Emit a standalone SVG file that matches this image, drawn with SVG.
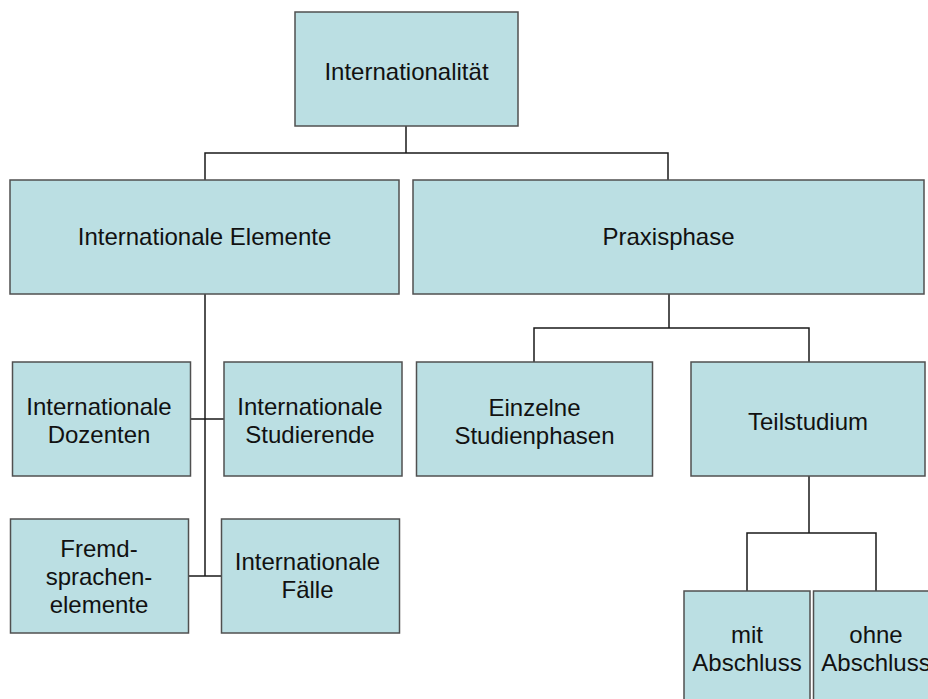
<svg xmlns="http://www.w3.org/2000/svg" width="928" height="699" viewBox="0 0 928 699">
<style>
.box{fill:#BBDFE3;stroke:#505050;stroke-width:1.5}
.t{font-family:"Liberation Sans",Arial,sans-serif;font-size:24px;fill:#111;text-anchor:middle}
.c{stroke:#1a1a1a;stroke-width:1.5;fill:none}
</style>
<rect width="928" height="699" fill="#fff"/>
<g id="connectors">
<path class="c" d="M406,126 V153 M205,180 V153 H668 V180"/>
<path class="c" d="M205,294 V576 M190,419 H224 M188,576 H221"/>
<path class="c" d="M669,294 V328 M534,362 V328 H809 V362"/>
<path class="c" d="M809,476 V533 M747,591 V533 H876 V591"/>
</g>
<g id="n-internationalitaet"><rect class="box" x="295" y="12" width="223" height="114"/><text class="t" x="406.5" y="80">Internationalität</text></g>
<g id="n-elemente"><rect class="box" x="10" y="180" width="389" height="114"/><text class="t" x="204.5" y="245">Internationale Elemente</text></g>
<g id="n-praxisphase"><rect class="box" x="413" y="180" width="511" height="114"/><text class="t" x="668.5" y="245">Praxisphase</text></g>
<g id="n-dozenten"><rect class="box" x="12.5" y="362" width="178" height="114"/><text class="t" x="99" y="415">Internationale</text><text class="t" x="99" y="443">Dozenten</text></g>
<g id="n-studierende"><rect class="box" x="224" y="362" width="178" height="114"/><text class="t" x="310" y="415">Internationale</text><text class="t" x="310" y="443">Studierende</text></g>
<g id="n-fremd"><rect class="box" x="10.5" y="519" width="178" height="114"/><text class="t" x="99" y="557">Fremd-</text><text class="t" x="99" y="585">sprachen-</text><text class="t" x="99" y="613">elemente</text></g>
<g id="n-faelle"><rect class="box" x="221.5" y="519" width="178" height="114"/><text class="t" x="307.5" y="570">Internationale</text><text class="t" x="307.5" y="598">Fälle</text></g>
<g id="n-einzelne"><rect class="box" x="416.5" y="362" width="236" height="114"/><text class="t" x="534.5" y="416">Einzelne</text><text class="t" x="534.5" y="444">Studienphasen</text></g>
<g id="n-teilstudium"><rect class="box" x="691" y="362" width="234" height="114"/><text class="t" x="808" y="430">Teilstudium</text></g>
<g id="n-mit"><rect class="box" x="684" y="591" width="126" height="120"/><text class="t" x="747" y="643">mit</text><text class="t" x="747" y="671">Abschluss</text></g>
<g id="n-ohne"><rect class="box" x="813.5" y="591" width="126" height="120"/><text class="t" x="876" y="643">ohne</text><text class="t" x="876" y="671">Abschluss</text></g>
</svg>
